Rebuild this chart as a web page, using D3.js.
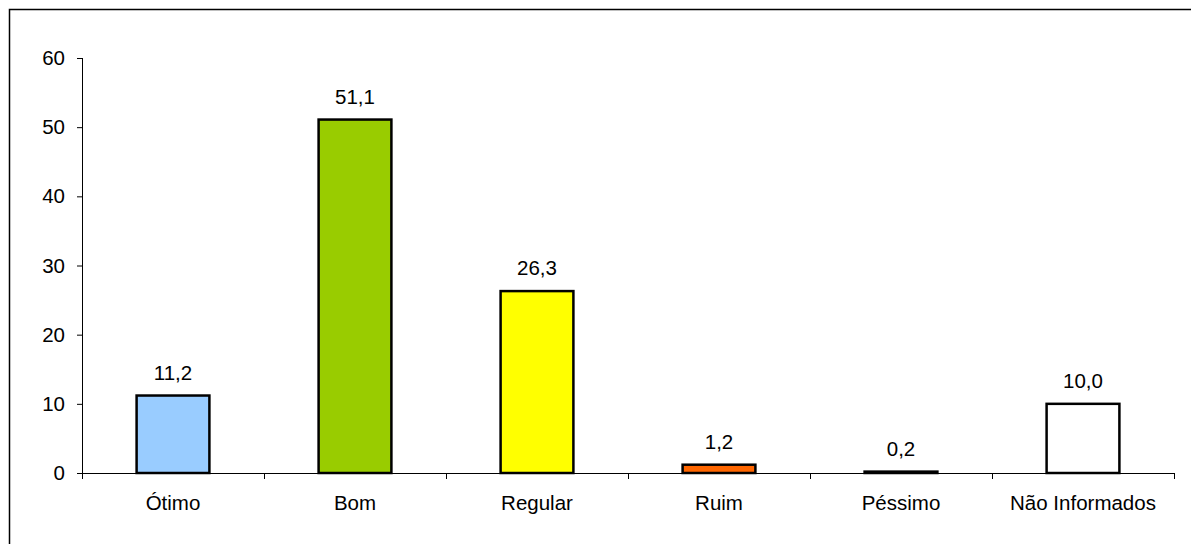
<!DOCTYPE html>
<html><head><meta charset="utf-8">
<script src="https://cdn.jsdelivr.net/npm/d3@7"></script>
<style>body{margin:0;background:#fff}svg{display:block}</style>
</head><body>
<svg id="c" width="1191" height="544"></svg>
<script>
const categories = ["Ótimo","Bom","Regular","Ruim","Péssimo","Não Informados"];
const values = [11.2, 51.1, 26.3, 1.2, 0.2, 10.0];
const labels = ["11,2","51,1","26,3","1,2","0,2","10,0"];
const colors = ["#99CCFF","#99CC00","#FFFF00","#FF6600","#000000","#FFFFFF"];
const yTicks = [0,10,20,30,40,50,60];

const svg = d3.select("#c");
const font = "Liberation Sans, Arial, sans-serif";
const fs = 20.5;
svg.append("rect").attr("x",9.5).attr("y",9.5).attr("width",1300).attr("height",700)
  .attr("fill","#fff").attr("stroke","#000").attr("stroke-width",1.5);

const x = d3.scaleBand().domain(categories).range([82,1174]).paddingInner(0.6).paddingOuter(0.3);
const xb = d3.scaleBand().domain(categories).range([82,1174]);
const y = d3.scaleLinear().domain([0,60]).range([473,58]);

const ya = svg.append("g").attr("transform","translate(82,0)")
  .call(d3.axisLeft(y).tickValues(yTicks).tickSize(5).tickPadding(12).tickFormat(d3.format("d")));
ya.selectAll("text").attr("font-family",font).attr("font-size",fs).attr("fill","#000");
ya.selectAll("path,line").attr("stroke","#000");
ya.select(".domain").attr("d","M0.5,"+y(60)+"V"+y(0));

// x axis
const xa = svg.append("g");
xa.append("line").attr("x1",77).attr("x2",1174).attr("y1",y(0)+0.5).attr("y2",y(0)+0.5).attr("stroke","#000");
const bounds = categories.map(c=>xb(c)).concat([xb(categories[5])+xb.bandwidth()]);
xa.selectAll("line.t").data(bounds).enter().append("line").attr("class","t")
  .attr("x1",d=>Math.round(d)+0.5).attr("x2",d=>Math.round(d)+0.5)
  .attr("y1",y(0)).attr("y2",y(0)+6).attr("stroke","#000");
xa.selectAll("text").data(categories).enter().append("text")
  .attr("x",d=>xb(d)+xb.bandwidth()/2).attr("y",510).attr("text-anchor","middle")
  .attr("font-family",font).attr("font-size",fs).text(d=>d);

svg.selectAll("rect.bar").data(values).enter().append("rect").attr("class","bar")
  .attr("x",(d,i)=>x(categories[i])).attr("width",x.bandwidth())
  .attr("y",d=>y(d)).attr("height",d=>y(0)-y(d))
  .attr("fill",(d,i)=>colors[i]).attr("stroke","#000").attr("stroke-width",2.5);

svg.selectAll("text.val").data(values).enter().append("text").attr("class","val")
  .attr("x",(d,i)=>x(categories[i])+x.bandwidth()/2).attr("y",d=>y(d)-16)
  .attr("text-anchor","middle").attr("font-family",font).attr("font-size",fs)
  .text((d,i)=>labels[i]);
</script>
</body></html>
